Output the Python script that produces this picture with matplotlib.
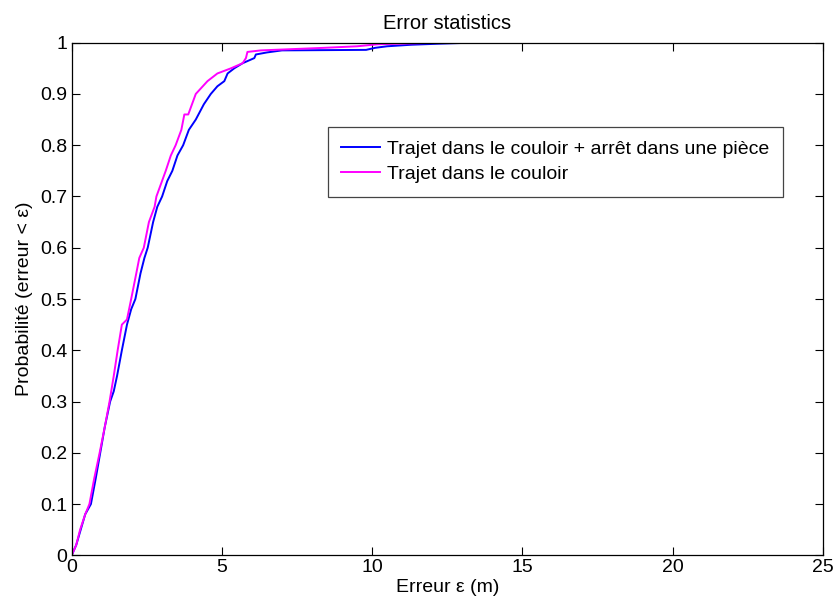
import matplotlib
matplotlib.use("Agg")
import matplotlib.pyplot as plt

plt.rcParams['font.family'] = ['Liberation Sans', 'DejaVu Sans']

# Blue: Trajet dans le couloir + arrêt dans une pièce
blue_x = [0, 0.15, 0.3, 0.45, 0.64, 0.8, 0.95, 1.1, 1.28, 1.40, 1.51, 1.67, 1.84, 1.98,
          2.12, 2.29, 2.42, 2.53, 2.71, 2.85, 3.01, 3.18, 3.35, 3.52, 3.71, 3.9, 4.13,
          4.4, 4.63, 4.85, 5.08, 5.19, 5.41, 5.69, 6.08, 6.13, 6.5, 7.0, 9.8, 10.1,
          10.5, 11.3, 12.2, 13.3]
blue_y = [0, 0.02, 0.05, 0.08, 0.10, 0.15, 0.20, 0.25, 0.30, 0.32, 0.35, 0.40, 0.45, 0.48,
          0.50, 0.55, 0.58, 0.60, 0.65, 0.68, 0.70, 0.73, 0.75, 0.78, 0.80, 0.83, 0.85,
          0.88, 0.90, 0.915, 0.925, 0.94, 0.95, 0.96, 0.97, 0.977, 0.981, 0.985, 0.986,
          0.99, 0.993, 0.996, 0.998, 1.0]

# Magenta: Trajet dans le couloir
mag_x = [0, 0.15, 0.28, 0.45, 0.59, 0.75, 0.93, 1.1, 1.26, 1.40, 1.53, 1.67, 1.84, 1.98,
         2.15, 2.25, 2.40, 2.57, 2.76, 2.82, 3.13, 3.30, 3.46, 3.65, 3.75, 3.88, 4.13,
         4.52, 4.85, 5.30, 5.69, 5.8, 5.85, 6.3, 8.4, 9.5, 10.2, 12.2]
mag_y = [0, 0.02, 0.05, 0.08, 0.10, 0.15, 0.20, 0.25, 0.30, 0.35, 0.40, 0.45, 0.46, 0.50,
         0.55, 0.58, 0.60, 0.65, 0.68, 0.70, 0.75, 0.78, 0.80, 0.83, 0.86, 0.86, 0.90,
         0.925, 0.94, 0.95, 0.96, 0.97, 0.982, 0.985, 0.99, 0.993, 0.997, 1.0]

labels = ["Trajet dans le couloir + arrêt dans une pièce", "Trajet dans le couloir"]
x_ticks = [0, 5, 10, 15, 20, 25]
y_ticks = [0, 0.1, 0.2, 0.3, 0.4, 0.5, 0.6, 0.7, 0.8, 0.9, 1]
y_tick_labels = ["0", "0.1", "0.2", "0.3", "0.4", "0.5", "0.6", "0.7", "0.8", "0.9", "1"]

fig = plt.figure(figsize=(8.35, 6.06), dpi=100)
ax = fig.add_axes([71.7/835, 50.7/606, 751/835, 512.6/606])

ax.plot(blue_x, blue_y, color='#0000ff', lw=1.4, label=labels[0])
ax.plot(mag_x, mag_y, color='#ff00ff', lw=1.4, label=labels[1])

ax.set_xlim(0, 25)
ax.set_ylim(0, 1)
ax.set_xticks(x_ticks)
ax.set_xticklabels([str(t) for t in x_ticks])
ax.set_yticks(y_ticks)
ax.set_yticklabels(y_tick_labels)
ax.tick_params(direction='in', top=True, right=True, labelsize=14, length=6, width=0.8, pad=3)
for s in ax.spines.values():
    s.set_linewidth(0.9)

ax.set_title("Error statistics", fontsize=14.5, pad=10)
ax.set_xlabel("Erreur ε (m)", fontsize=14, labelpad=2)
ax.set_ylabel("Probabilité (erreur < ε)", fontsize=14, labelpad=5)

leg = ax.legend(loc='upper right', bbox_to_anchor=(0.947, 0.8355), fontsize=14,
                fancybox=False, edgecolor='#444444', framealpha=1, handlelength=2.0,
                handletextpad=0.35, borderpad=0.7, labelspacing=0.38, borderaxespad=0)
leg.get_frame().set_linewidth(0.9)

fig.savefig("out.png", dpi=100)
